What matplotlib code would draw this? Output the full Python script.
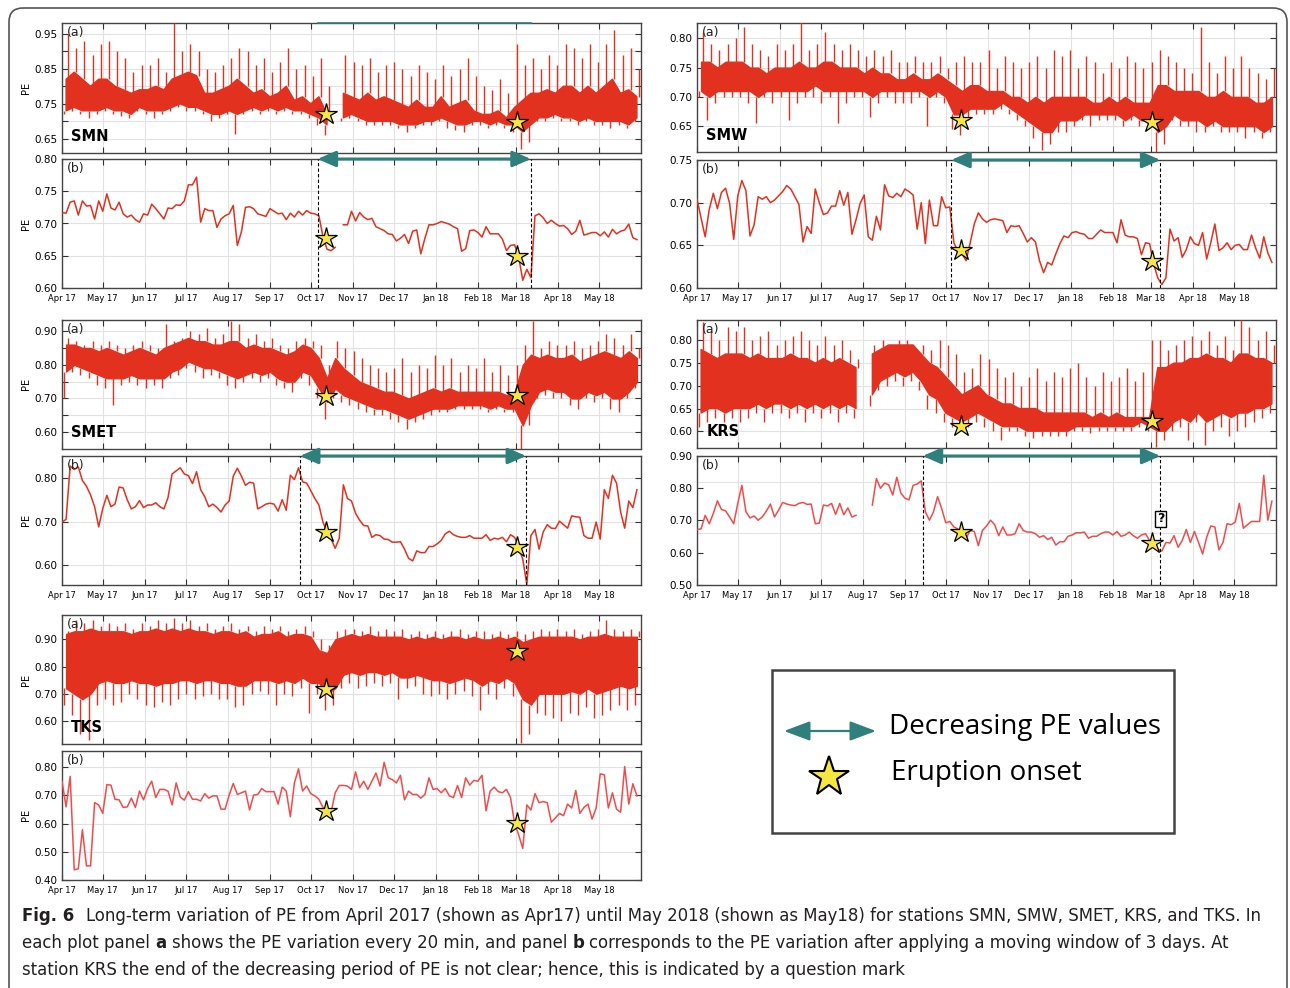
import numpy as np
import matplotlib
matplotlib.use("Agg")
import matplotlib.pyplot as plt
from matplotlib import font_manager
from matplotlib.patches import FancyBboxPatch, Rectangle

W, H = 1290, 988
RED = "#e2311f"
RED_LIGHT = "#f24b4b"
TEAL = "#2f7f7c"
STAR = "#f5e642"

# month starts as days since 2017-04-01
months = np.arange("2017-04", "2018-06", dtype="datetime64[M]")
month_days = (months.astype("datetime64[D]") - np.datetime64("2017-04-01")).astype(int)
month_labels = [m.astype(object).strftime("%b %y") for m in months]

nan = np.nan

# ---- panel (a): 20-min PE read per 6-day bin ----
# hi / lo: tips of the spikes; top / bot: edges of the dense band
smn_a_hi = [0.95, 0.91, 0.93, 0.89, 0.92, 0.93, 0.90, 0.88, 0.84, 0.86,
            0.86, 0.88, 0.84, 0.98, 0.90, 0.92, 0.90, 0.85, 0.84, 0.86,
            0.88, 0.91, 0.90, 0.86, 0.88, 0.84, 0.87, 0.91, 0.85, 0.86,
            0.83, 0.88, 0.80, nan, 0.89, 0.87, 0.86, 0.88, 0.84, 0.86,
            0.87, 0.85, 0.83, 0.86, 0.84, 0.82, 0.86, 0.83, 0.85, 0.88, 0.83,
            0.80, 0.79, 0.82, 0.78, 0.92, 0.86, 0.88, 0.85, 0.89, 0.86,
            0.92, 0.91, 0.88, 0.92, 0.87, 0.92, 0.96, 0.89, 0.91, 0.85]
smn_a_top = [0.82, 0.84, 0.82, 0.80, 0.82, 0.82, 0.80, 0.79, 0.78, 0.79,
             0.79, 0.80, 0.79, 0.82, 0.83, 0.84, 0.83, 0.78, 0.78, 0.79,
             0.80, 0.82, 0.80, 0.78, 0.79, 0.77, 0.78, 0.80, 0.76, 0.77,
             0.75, 0.77, 0.72, nan, 0.78, 0.77, 0.76, 0.78, 0.76, 0.77,
             0.76, 0.75, 0.74, 0.76, 0.74, 0.74, 0.77, 0.74, 0.75, 0.76, 0.73,
             0.72, 0.72, 0.73, 0.71, 0.74, 0.76, 0.78, 0.78, 0.79, 0.78,
             0.80, 0.80, 0.78, 0.80, 0.78, 0.80, 0.82, 0.78, 0.79, 0.77]
smn_a_bot = [0.73, 0.74, 0.73, 0.73, 0.73, 0.74, 0.73, 0.73, 0.72, 0.74,
             0.73, 0.73, 0.73, 0.74, 0.75, 0.74, 0.74, 0.73, 0.72, 0.72,
             0.73, 0.72, 0.73, 0.74, 0.73, 0.74, 0.73, 0.74, 0.73, 0.73,
             0.72, 0.71, 0.69, nan, 0.71, 0.72, 0.71, 0.70, 0.70, 0.70,
             0.70, 0.69, 0.69, 0.69, 0.70, 0.70, 0.71, 0.70, 0.69, 0.69, 0.70,
             0.70, 0.69, 0.70, 0.69, 0.69, 0.67, 0.69, 0.71, 0.71, 0.72,
             0.71, 0.71, 0.70, 0.71, 0.70, 0.70, 0.70, 0.70, 0.69, 0.71]
smn_a_lo = [0.72, 0.73, 0.72, 0.71, 0.72, 0.73, 0.72, 0.715, 0.71, 0.73,
            0.72, 0.71, 0.72, 0.73, 0.74, 0.73, 0.73, 0.72, 0.70, 0.71,
            0.72, 0.665, 0.72, 0.73, 0.72, 0.73, 0.72, 0.73, 0.72, 0.72,
            0.71, 0.69, 0.66, nan, 0.70, 0.71, 0.70, 0.69, 0.69, 0.69,
            0.69, 0.68, 0.67, 0.68, 0.69, 0.69, 0.70, 0.68, 0.675, 0.67, 0.69,
            0.69, 0.68, 0.69, 0.68, 0.67, 0.62, 0.64, 0.70, 0.70, 0.71,
            0.70, 0.70, 0.69, 0.70, 0.69, 0.69, 0.68, 0.69, 0.68, 0.70]

smw_a_hi = [0.81, 0.79, 0.78, 0.79, 0.80, 0.82, 0.79, 0.78, 0.77, 0.79,
            0.78, 0.79, 0.83, 0.78, 0.79, 0.81, 0.79, 0.78, 0.79, 0.78,
            0.77, 0.78, 0.77, 0.78, 0.76, 0.76, 0.77, 0.76, 0.76, 0.77,
            0.75, 0.76, 0.77, 0.76, 0.76, 0.78, 0.75, 0.77, 0.76, 0.75,
            0.76, 0.77, 0.75, 0.78, 0.77, 0.78, 0.75, 0.77, 0.76, 0.74, 0.76,
            0.75, 0.77, 0.76, 0.75, 0.76, 0.78, 0.77, 0.76, 0.75, 0.74,
            0.82, 0.76, 0.74, 0.77, 0.75, 0.77, 0.75, 0.74, 0.73, 0.75]
smw_a_top = [0.76, 0.76, 0.75, 0.76, 0.76, 0.76, 0.75, 0.75, 0.74, 0.75,
             0.75, 0.75, 0.76, 0.75, 0.75, 0.76, 0.76, 0.75, 0.75, 0.75,
             0.74, 0.75, 0.74, 0.74, 0.73, 0.73, 0.74, 0.73, 0.73, 0.74,
             0.73, 0.72, 0.71, 0.72, 0.72, 0.71, 0.71, 0.71, 0.70, 0.70,
             0.69, 0.70, 0.69, 0.70, 0.70, 0.70, 0.70, 0.70, 0.69, 0.69, 0.70,
             0.69, 0.70, 0.69, 0.69, 0.69, 0.72, 0.72, 0.71, 0.71, 0.71,
             0.71, 0.70, 0.70, 0.71, 0.70, 0.70, 0.70, 0.69, 0.69, 0.70]
smw_a_bot = [0.71, 0.70, 0.71, 0.71, 0.71, 0.71, 0.71, 0.70, 0.71, 0.71,
             0.71, 0.71, 0.71, 0.71, 0.72, 0.71, 0.71, 0.71, 0.71, 0.71,
             0.71, 0.70, 0.71, 0.71, 0.71, 0.71, 0.71, 0.71, 0.70, 0.71,
             0.70, 0.67, 0.67, 0.68, 0.68, 0.68, 0.68, 0.69, 0.68, 0.67,
             0.66, 0.65, 0.64, 0.64, 0.66, 0.66, 0.66, 0.67, 0.67, 0.67, 0.67,
             0.67, 0.66, 0.67, 0.66, 0.66, 0.64, 0.65, 0.67, 0.66, 0.66,
             0.66, 0.65, 0.66, 0.65, 0.65, 0.65, 0.65, 0.65, 0.64, 0.65]
smw_a_lo = [0.70, 0.66, 0.69, 0.70, 0.70, 0.70, 0.69, 0.655, 0.70, 0.69,
            0.70, 0.66, 0.69, 0.70, 0.70, 0.69, 0.70, 0.655, 0.69, 0.70,
            0.70, 0.665, 0.69, 0.70, 0.69, 0.69, 0.69, 0.70, 0.65, 0.70,
            0.69, 0.645, 0.635, 0.66, 0.67, 0.67, 0.67, 0.68, 0.67, 0.66,
            0.65, 0.63, 0.61, 0.62, 0.64, 0.64, 0.65, 0.66, 0.65, 0.66, 0.66,
            0.66, 0.65, 0.66, 0.65, 0.65, 0.605, 0.62, 0.66, 0.65, 0.65,
            0.64, 0.64, 0.65, 0.64, 0.64, 0.64, 0.63, 0.64, 0.63, 0.64]

smet_a_hi = [0.88, 0.87, 0.86, 0.87, 0.86, 0.87, 0.86, 0.85, 0.86, 0.87,
             0.86, 0.85, 0.92, 0.87, 0.88, 0.90, 0.89, 0.91, 0.88, 0.89,
             0.93, 0.92, 0.88, 0.89, 0.87, 0.88, 0.86, 0.85, 0.87, 0.88,
             0.87, 0.86, 0.80, 0.87, 0.85, 0.84, 0.82, 0.80, 0.79, 0.78,
             0.79, 0.82, 0.78, 0.80, 0.79, 0.83, 0.80, 0.82, 0.78, 0.80, 0.79,
             0.82, 0.78, 0.80, 0.77, 0.80, 0.86, 0.93, 0.85, 0.87, 0.86,
             0.86, 0.87, 0.85, 0.86, 0.87, 0.89, 0.88, 0.86, 0.89, 0.85]
smet_a_top = [0.86, 0.86, 0.85, 0.85, 0.84, 0.85, 0.84, 0.83, 0.84, 0.85,
              0.84, 0.83, 0.85, 0.86, 0.87, 0.88, 0.87, 0.87, 0.86, 0.86,
              0.87, 0.87, 0.85, 0.86, 0.85, 0.85, 0.84, 0.83, 0.84, 0.86,
              0.85, 0.82, 0.76, 0.82, 0.79, 0.77, 0.75, 0.74, 0.73, 0.72,
              0.72, 0.71, 0.70, 0.71, 0.72, 0.73, 0.72, 0.73, 0.72, 0.72, 0.72,
              0.72, 0.72, 0.72, 0.71, 0.72, 0.80, 0.83, 0.82, 0.83, 0.82,
              0.82, 0.83, 0.81, 0.82, 0.83, 0.84, 0.83, 0.82, 0.84, 0.82]
smet_a_bot = [0.78, 0.80, 0.79, 0.78, 0.77, 0.76, 0.76, 0.76, 0.77, 0.76,
              0.76, 0.76, 0.76, 0.78, 0.79, 0.81, 0.80, 0.79, 0.79, 0.78,
              0.77, 0.76, 0.77, 0.78, 0.77, 0.78, 0.76, 0.75, 0.75, 0.78,
              0.77, 0.73, 0.69, 0.73, 0.71, 0.70, 0.69, 0.68, 0.67, 0.67,
              0.66, 0.65, 0.64, 0.65, 0.66, 0.67, 0.67, 0.67, 0.68, 0.68, 0.68,
              0.68, 0.67, 0.68, 0.67, 0.67, 0.62, 0.68, 0.72, 0.73, 0.72,
              0.72, 0.70, 0.70, 0.72, 0.71, 0.72, 0.70, 0.70, 0.72, 0.75]
smet_a_lo = [0.70, 0.78, 0.77, 0.76, 0.74, 0.73, 0.68, 0.74, 0.75, 0.74,
             0.73, 0.74, 0.73, 0.76, 0.77, 0.79, 0.78, 0.76, 0.77, 0.76,
             0.74, 0.73, 0.75, 0.76, 0.75, 0.76, 0.74, 0.73, 0.72, 0.76,
             0.74, 0.70, 0.64, 0.70, 0.69, 0.68, 0.67, 0.66, 0.65, 0.65,
             0.64, 0.63, 0.61, 0.63, 0.64, 0.65, 0.66, 0.66, 0.67, 0.67, 0.67,
             0.67, 0.66, 0.67, 0.66, 0.66, 0.55, 0.62, 0.70, 0.71, 0.70,
             0.70, 0.68, 0.67, 0.70, 0.69, 0.70, 0.67, 0.66, 0.70, 0.73]

krs_a_hi = [0.84, 0.82, 0.80, 0.83, 0.82, 0.83, 0.80, 0.81, 0.82, 0.79,
            0.80, 0.81, 0.82, 0.80, 0.79, 0.81, 0.79, 0.80, 0.78, 0.76,
            nan, 0.79, 0.80, 0.79, 0.80, 0.80, 0.79, 0.79, 0.78, 0.80,
            0.79, 0.77, 0.73, 0.74, 0.77, 0.76, 0.74, 0.72, 0.73, 0.70,
            0.72, 0.74, 0.71, 0.73, 0.72, 0.74, 0.75, 0.72, 0.70, 0.73, 0.71,
            0.72, 0.74, 0.71, 0.73, 0.80, 0.80, 0.78, 0.79, 0.80, 0.81,
            0.80, 0.82, 0.79, 0.81, 0.78, 0.845, 0.83, 0.80, 0.82, 0.79]
krs_a_top = [0.78, 0.77, 0.76, 0.77, 0.77, 0.77, 0.76, 0.77, 0.76, 0.76,
             0.76, 0.77, 0.76, 0.76, 0.75, 0.76, 0.75, 0.76, 0.75, 0.74,
             nan, 0.77, 0.78, 0.79, 0.79, 0.79, 0.79, 0.77, 0.75, 0.74,
             0.72, 0.70, 0.68, 0.69, 0.70, 0.68, 0.67, 0.66, 0.66, 0.65,
             0.65, 0.65, 0.64, 0.64, 0.64, 0.64, 0.64, 0.64, 0.63, 0.64, 0.63,
             0.64, 0.63, 0.63, 0.63, 0.63, 0.74, 0.74, 0.75, 0.75, 0.76,
             0.76, 0.77, 0.76, 0.76, 0.75, 0.77, 0.77, 0.76, 0.76, 0.75]
krs_a_bot = [0.64, 0.65, 0.65, 0.64, 0.65, 0.65, 0.65, 0.66, 0.65, 0.66,
             0.66, 0.65, 0.66, 0.65, 0.66, 0.65, 0.66, 0.65, 0.66, 0.65,
             nan, 0.68, 0.71, 0.72, 0.73, 0.72, 0.73, 0.71, 0.68, 0.67,
             0.64, 0.63, 0.62, 0.63, 0.64, 0.63, 0.62, 0.61, 0.61, 0.61,
             0.60, 0.60, 0.60, 0.60, 0.60, 0.60, 0.61, 0.61, 0.61, 0.61, 0.61,
             0.61, 0.61, 0.61, 0.62, 0.61, 0.60, 0.60, 0.62, 0.63, 0.62,
             0.64, 0.62, 0.63, 0.64, 0.63, 0.64, 0.64, 0.65, 0.65, 0.66]
krs_a_lo = [0.61, 0.62, 0.63, 0.62, 0.63, 0.62, 0.63, 0.64, 0.62, 0.64,
            0.64, 0.63, 0.64, 0.62, 0.64, 0.63, 0.64, 0.62, 0.64, 0.63,
            nan, 0.655, 0.69, 0.70, 0.71, 0.70, 0.71, 0.69, 0.65, 0.64,
            0.62, 0.61, 0.60, 0.61, 0.62, 0.61, 0.60, 0.58, 0.60, 0.60,
            0.59, 0.585, 0.59, 0.59, 0.59, 0.59, 0.60, 0.60, 0.595, 0.60, 0.60,
            0.60, 0.60, 0.60, 0.61, 0.60, 0.565, 0.58, 0.60, 0.61, 0.58,
            0.62, 0.57, 0.60, 0.61, 0.59, 0.60, 0.61, 0.62, 0.63, 0.64]

tks_a_hi = [0.93, 0.97, 0.96, 0.97, 0.95, 0.96, 0.95, 0.96, 0.94, 0.96,
            0.95, 0.97, 0.96, 0.98, 0.96, 0.97, 0.95, 0.96, 0.94, 0.95,
            0.96, 0.94, 0.95, 0.93, 0.95, 0.94, 0.95, 0.93, 0.94, 0.95,
            0.93, 0.90, 0.88, 0.93, 0.94, 0.94, 0.93, 0.95, 0.93, 0.94,
            0.93, 0.94, 0.92, 0.93, 0.92, 0.93, 0.92, 0.93, 0.94, 0.92, 0.93,
            0.93, 0.92, 0.93, 0.92, 0.93, 0.92, 0.93, 0.94, 0.93, 0.94,
            0.93, 0.94, 0.92, 0.93, 0.94, 0.97, 0.94, 0.93, 0.94, 0.93]
tks_a_top = [0.92, 0.93, 0.93, 0.94, 0.93, 0.93, 0.93, 0.93, 0.92, 0.93,
             0.93, 0.94, 0.93, 0.94, 0.93, 0.94, 0.93, 0.93, 0.92, 0.93,
             0.93, 0.92, 0.93, 0.91, 0.92, 0.92, 0.93, 0.91, 0.92, 0.92,
             0.91, 0.86, 0.85, 0.90, 0.91, 0.92, 0.91, 0.92, 0.91, 0.91,
             0.91, 0.91, 0.90, 0.91, 0.90, 0.91, 0.90, 0.91, 0.91, 0.90, 0.91,
             0.90, 0.90, 0.91, 0.90, 0.91, 0.89, 0.90, 0.91, 0.91, 0.91,
             0.91, 0.91, 0.90, 0.91, 0.91, 0.92, 0.91, 0.91, 0.91, 0.91]
tks_a_bot = [0.72, 0.70, 0.68, 0.70, 0.74, 0.75, 0.74, 0.74, 0.75, 0.74,
             0.74, 0.73, 0.74, 0.74, 0.75, 0.75, 0.74, 0.75, 0.75, 0.74,
             0.74, 0.73, 0.73, 0.75, 0.75, 0.75, 0.74, 0.75, 0.74, 0.76,
             0.74, 0.74, 0.70, 0.72, 0.77, 0.78, 0.77, 0.78, 0.78, 0.77,
             0.78, 0.76, 0.76, 0.77, 0.76, 0.75, 0.75, 0.74, 0.75, 0.76, 0.75,
             0.73, 0.75, 0.74, 0.76, 0.74, 0.68, 0.66, 0.70, 0.70, 0.70,
             0.70, 0.71, 0.70, 0.72, 0.70, 0.71, 0.72, 0.73, 0.72, 0.73]
tks_a_lo = [0.66, 0.62, 0.55, 0.53, 0.66, 0.68, 0.66, 0.67, 0.70, 0.68,
            0.66, 0.65, 0.67, 0.66, 0.68, 0.70, 0.68, 0.69, 0.70, 0.68,
            0.68, 0.65, 0.66, 0.70, 0.71, 0.70, 0.66, 0.70, 0.69, 0.72,
            0.63, 0.70, 0.64, 0.66, 0.72, 0.74, 0.72, 0.73, 0.74, 0.73,
            0.74, 0.68, 0.72, 0.73, 0.70, 0.69, 0.70, 0.68, 0.70, 0.71, 0.69,
            0.64, 0.70, 0.68, 0.72, 0.69, 0.52, 0.55, 0.63, 0.62, 0.61,
            0.60, 0.63, 0.62, 0.65, 0.61, 0.62, 0.64, 0.66, 0.64, 0.66]

# ---- panel (b): 3-day moving window PE, one value every 3 days ----
smn_b = [0.717, 0.716, 0.733, 0.735, 0.713, 0.735, 0.727, 0.728, 0.707, 0.735,
         0.719, 0.746, 0.724, 0.721, 0.733, 0.715, 0.710, 0.713, 0.706, 0.702,
         0.715, 0.713, 0.730, 0.723, 0.715, 0.707, 0.724, 0.723, 0.729, 0.728,
         0.735, 0.760, 0.760, 0.772, 0.702, 0.723, 0.720, 0.720, 0.694, 0.707,
         0.712, 0.715, 0.728, 0.666, 0.687, 0.725, 0.726, 0.723, 0.715, 0.713,
         0.711, 0.723, 0.719, 0.715, 0.716, 0.706, 0.716, 0.710, 0.719, 0.713,
         0.720, 0.716, 0.715, 0.712, 0.680, 0.660, 0.658, 0.663, nan,
         0.698, 0.698, 0.719, 0.704, 0.717, 0.710, 0.706, 0.708, 0.695, 0.692, 0.689,
         0.684, 0.683, 0.673, 0.677, 0.683, 0.669, 0.688, 0.690, 0.653, 0.677,
         0.698, 0.698, 0.700, 0.703, 0.701, 0.699, 0.695, 0.692, 0.657, 0.661,
         0.689, 0.690, 0.686, 0.679, 0.695, 0.684, 0.684, 0.684, 0.676, 0.658,
         0.666, 0.667, 0.648, 0.612, 0.629, 0.616, 0.712, 0.715, 0.709, 0.700,
         0.705, 0.700, 0.696, 0.697, 0.692, 0.683, 0.688, 0.705, 0.682, 0.684,
         0.686, 0.686, 0.681, 0.687, 0.679, 0.691, 0.684, 0.688, 0.690, 0.699,
         0.678, 0.675]
smw_b = [0.704, 0.682, 0.660, 0.692, 0.711, 0.693, 0.712, 0.717, 0.699, 0.657,
         0.708, 0.726, 0.714, 0.661, 0.674, 0.707, 0.704, 0.707, 0.700, 0.703,
         0.708, 0.713, 0.720, 0.716, 0.707, 0.698, 0.654, 0.672, 0.664, 0.716,
         0.700, 0.686, 0.688, 0.696, 0.696, 0.714, 0.697, 0.712, 0.663, 0.680,
         0.699, 0.709, 0.660, 0.656, 0.684, 0.668, 0.721, 0.708, 0.706, 0.711,
         0.707, 0.716, 0.713, 0.709, 0.669, 0.700, 0.652, 0.703, 0.673, 0.673,
         0.707, 0.694, 0.695, 0.653, 0.643, 0.640, 0.632, 0.653, 0.675, 0.688,
         0.681, 0.677, 0.680, 0.681, 0.680, 0.679, 0.665, 0.673, 0.672, 0.673,
         0.664, 0.654, 0.659, 0.654, 0.632, 0.618, 0.630, 0.627, 0.640, 0.652,
         0.661, 0.659, 0.665, 0.666, 0.664, 0.663, 0.658, 0.658, 0.663, 0.668,
         0.665, 0.665, 0.665, 0.653, 0.680, 0.662, 0.660, 0.660, 0.658, 0.639,
         0.653, 0.652, 0.628, 0.612, 0.604, 0.612, 0.669, 0.655, 0.659, 0.636,
         0.645, 0.660, 0.652, 0.650, 0.665, 0.634, 0.653, 0.675, 0.644, 0.647,
         0.653, 0.645, 0.650, 0.651, 0.645, 0.645, 0.662, 0.647, 0.635, 0.660,
         0.641, 0.630]
smet_b = [0.699, 0.705, 0.827, 0.819, 0.825, 0.794, 0.781, 0.761, 0.734, 0.688,
          0.730, 0.760, 0.734, 0.740, 0.779, 0.777, 0.750, 0.729, 0.734, 0.748,
          0.732, 0.738, 0.738, 0.743, 0.734, 0.729, 0.755, 0.809, 0.816, 0.823,
          0.809, 0.805, 0.787, 0.814, 0.773, 0.757, 0.734, 0.740, 0.732, 0.722,
          0.738, 0.747, 0.804, 0.822, 0.804, 0.783, 0.790, 0.788, 0.729, 0.734,
          0.740, 0.742, 0.740, 0.724, 0.750, 0.726, 0.806, 0.796, 0.823, 0.791,
          0.788, 0.771, 0.753, 0.738, 0.699, 0.676, 0.660, 0.639, 0.662, 0.784,
          0.753, 0.747, 0.719, 0.703, 0.691, 0.690, 0.664, 0.670, 0.668, 0.660,
          0.659, 0.653, 0.653, 0.654, 0.637, 0.616, 0.610, 0.633, 0.629, 0.629,
          0.643, 0.643, 0.649, 0.657, 0.672, 0.678, 0.670, 0.666, 0.664, 0.664,
          0.668, 0.662, 0.662, 0.662, 0.670, 0.657, 0.662, 0.660, 0.664, 0.654,
          0.670, 0.664, 0.641, 0.614, 0.556, 0.668, 0.682, 0.637, 0.676, 0.693,
          0.685, 0.684, 0.701, 0.693, 0.685, 0.713, 0.711, 0.710, 0.668, 0.662,
          0.662, 0.699, 0.660, 0.773, 0.753, 0.806, 0.788, 0.722, 0.685, 0.747,
          0.732, 0.773]
krs_b = [0.672, 0.674, 0.716, 0.690, 0.722, 0.761, 0.734, 0.730, 0.711, 0.690,
         0.753, 0.809, 0.727, 0.708, 0.714, 0.701, 0.711, 0.729, 0.751, 0.711,
         0.732, 0.756, 0.751, 0.748, 0.746, 0.753, 0.756, 0.750, 0.751, 0.690,
         0.692, 0.748, 0.745, 0.753, 0.719, 0.753, 0.718, 0.739, 0.711, 0.716,
         nan, nan, nan, 0.748, 0.830, 0.800, 0.816, 0.811, 0.779, 0.834,
         0.785, 0.769, 0.764, 0.809, 0.813, 0.823, 0.727, 0.701, 0.727, 0.774,
         0.737, 0.693, 0.697, 0.680, 0.674, 0.655, 0.645, 0.669, 0.666, 0.622,
         0.669, 0.683, 0.701, 0.687, 0.653, 0.680, 0.655, 0.655, 0.659, 0.690,
         0.669, 0.664, 0.664, 0.659, 0.648, 0.653, 0.641, 0.648, 0.624, 0.634,
         0.634, 0.651, 0.655, 0.662, 0.662, 0.664, 0.645, 0.651, 0.651, 0.659,
         0.664, 0.664, 0.655, 0.666, 0.651, 0.655, 0.664, 0.653, 0.645, 0.655,
         0.659, 0.638, 0.627, 0.611, 0.605, 0.632, 0.630, 0.653, 0.617, 0.638,
         0.672, 0.632, 0.666, 0.632, 0.596, 0.648, 0.683, 0.680, 0.609, 0.632,
         0.690, 0.687, 0.695, 0.753, 0.676, 0.687, 0.697, 0.697, 0.697, 0.840,
         0.701, 0.760]
tks_b = [0.750, 0.659, 0.767, 0.436, 0.440, 0.578, 0.450, 0.450, 0.674, 0.666,
         0.636, 0.738, 0.736, 0.686, 0.684, 0.657, 0.659, 0.690, 0.657, 0.715,
         0.684, 0.724, 0.750, 0.692, 0.721, 0.721, 0.715, 0.666, 0.744, 0.694,
         0.683, 0.713, 0.686, 0.686, 0.680, 0.706, 0.690, 0.698, 0.698, 0.651,
         0.651, 0.701, 0.742, 0.703, 0.709, 0.715, 0.648, 0.701, 0.703, 0.724,
         0.713, 0.713, 0.713, 0.669, 0.729, 0.715, 0.624, 0.744, 0.794, 0.715,
         0.733, 0.706, 0.698, 0.686, 0.657, 0.645, 0.640, 0.709, 0.735, 0.735,
         0.733, 0.721, 0.783, 0.727, 0.750, 0.721, 0.750, 0.779, 0.733, 0.817,
         0.762, 0.756, 0.744, 0.771, 0.684, 0.715, 0.703, 0.703, 0.690, 0.703,
         0.762, 0.721, 0.724, 0.709, 0.724, 0.698, 0.692, 0.735, 0.692, 0.762,
         0.736, 0.753, 0.750, 0.771, 0.645, 0.715, 0.729, 0.713, 0.709, 0.721,
         0.692, 0.601, 0.560, 0.512, 0.666, 0.648, 0.706, 0.674, 0.678, 0.674,
         0.605, 0.620, 0.636, 0.628, 0.669, 0.655, 0.717, 0.636, 0.657, 0.669,
         0.616, 0.655, 0.776, 0.773, 0.655, 0.709, 0.651, 0.640, 0.802, 0.669,
         0.741, 0.698]

# eruption onsets (days since 2017-04-01) and star heights per panel
eruption_days = [194, 335]
smn_star_a, smn_star_b = [0.720, 0.698], [0.678, 0.650]
smw_star_a, smw_star_b = [0.660, 0.657], [0.644, 0.632]
smet_star_a, smet_star_b = [0.707, 0.710], [0.676, 0.643]
krs_star_a, krs_star_b = [0.611, 0.622], [0.664, 0.630]
tks_star_a, tks_star_b = [0.718, 0.859], [0.643, 0.601]

# decreasing-PE periods (start, end days)
smn_period = [188, 345]
smw_period = [187, 341]
smet_period = [175, 341.5]
krs_period = [166, 341]

fig = plt.figure(figsize=(W / 100, H / 100), dpi=100)


def px_axes(l, t, r, b):
    return fig.add_axes([l / W, 1 - b / H, (r - l) / W, (b - t) / H])


def style(ax, ylim, yt, ylab, show_x):
    ax.set_xlim(0, 426)
    ax.set_ylim(*ylim)
    ax.set_xticks(month_days)
    ax.set_xticklabels(month_labels if show_x else [])
    ax.set_yticks(yt)
    ax.set_yticklabels(ylab)
    ax.tick_params(direction="in", length=4, width=0.8, top=True, right=True,
                   color="#333333")
    ax.tick_params(axis="x", labelsize=6, pad=4)
    ax.tick_params(axis="y", labelsize=7.5, pad=3)
    ax.grid(True, color="#e2e2e2", lw=0.8)
    ax.set_axisbelow(True)
    for s in ax.spines.values():
        s.set_color("#444444")
        s.set_linewidth(1.0)


def labs(vals, every=1):
    return [f"{v:.2f}" if i % every == 0 else "" for i, v in enumerate(vals)]


def stars(ax, ys, ms=16):
    ax.plot(eruption_days, ys, ls="none", marker="*", ms=ms, mfc=STAR,
            mec="black", mew=0.9, zorder=6)


def envelope(ax, hi, top, bot, lo):
    # dense band between bot and top, single spikes up to hi and down to lo
    k = np.arange(len(hi)) * 6
    ax.fill_between(k + 3, bot, top, color=RED, lw=1.0, ec=RED, zorder=3)
    ax.vlines(k + 4.5, top, hi, color=RED, lw=1.0, zorder=3)
    ax.vlines(k + 1.5, lo, bot, color=RED, lw=1.0, zorder=3)


def smooth(ax, vals, color=RED):
    t = np.arange(len(vals)) * 3.0
    ax.plot(t, vals, color=color, lw=1.1, zorder=3)


def period(ax, span):
    top = ax.get_ylim()[1]
    for d in span:
        ax.axvline(d, color="black", ls=(0, (3, 2)), lw=0.8, zorder=4)
    ax.annotate("", xy=(span[1], top), xytext=(span[0], top),
                arrowprops=dict(arrowstyle="<|-|>,head_length=0.55,head_width=0.24",
                                mutation_scale=20, color=TEAL, lw=2.2,
                                shrinkA=0, shrinkB=0),
                annotation_clip=False, zorder=10)


def tag(ax, s):
    ax.text(0.008, 0.975, s, transform=ax.transAxes, ha="left", va="top",
            fontsize=9, color="#222222", zorder=7)


def station(ax, s):
    ax.text(0.016, 0.09, s, transform=ax.transAxes, ha="left", va="baseline",
            fontsize=10.5, fontweight="bold", color="black", zorder=7)


# ---- SMN ----
a = px_axes(62, 23, 641, 153)
envelope(a, smn_a_hi, smn_a_top, smn_a_bot, smn_a_lo)
stars(a, smn_star_a)
yt = [0.65, 0.70, 0.75, 0.80, 0.85, 0.90, 0.95]
style(a, (0.61, 0.98), yt, labs(yt, 2), False)
a.plot(smn_period, [1, 1], transform=a.get_xaxis_transform(), color=TEAL,
       lw=1.2, clip_on=False, zorder=8)
tag(a, "(a)")
station(a, "SMN")
b = px_axes(62, 159, 641, 288)
smooth(b, smn_b)
stars(b, smn_star_b)
yt = [0.60, 0.65, 0.70, 0.75, 0.80]
style(b, (0.60, 0.80), yt, labs(yt), True)
period(b, smn_period)
tag(b, "(b)")

# ---- SMW ----
a = px_axes(697, 23, 1276, 152)
envelope(a, smw_a_hi, smw_a_top, smw_a_bot, smw_a_lo)
stars(a, smw_star_a)
yt = [0.65, 0.70, 0.75, 0.80]
style(a, (0.606, 0.826), yt, labs(yt), False)
tag(a, "(a)")
station(a, "SMW")
b = px_axes(697, 160, 1276, 288)
smooth(b, smw_b)
stars(b, smw_star_b)
yt = [0.60, 0.65, 0.70, 0.75]
style(b, (0.60, 0.75), yt, labs(yt), True)
period(b, smw_period)
tag(b, "(b)")

# ---- SMET ----
a = px_axes(62, 320, 641, 449)
envelope(a, smet_a_hi, smet_a_top, smet_a_bot, smet_a_lo)
stars(a, smet_star_a)
yt = [0.60, 0.65, 0.70, 0.75, 0.80, 0.85, 0.90]
style(a, (0.55, 0.933), yt, labs(yt, 2), False)
tag(a, "(a)")
station(a, "SMET")
b = px_axes(62, 456, 641, 585)
smooth(b, smet_b)
stars(b, smet_star_b)
yt = [0.60, 0.70, 0.80]
style(b, (0.555, 0.85), yt, labs(yt), True)
period(b, smet_period)
tag(b, "(b)")

# ---- KRS ----
a = px_axes(697, 320, 1276, 448)
envelope(a, krs_a_hi, krs_a_top, krs_a_bot, krs_a_lo)
stars(a, krs_star_a)
yt = [0.60, 0.65, 0.70, 0.75, 0.80]
style(a, (0.563, 0.845), yt, labs(yt), False)
tag(a, "(a)")
station(a, "KRS")
b = px_axes(697, 456, 1276, 585)
smooth(b, krs_b, RED_LIGHT)
stars(b, krs_star_b)
yt = [0.50, 0.60, 0.70, 0.80, 0.90]
style(b, (0.50, 0.90), yt, labs(yt), True)
b.yaxis.grid(False)
for g in (0.66, 0.82):
    b.axhline(g, color="#e2e2e2", lw=0.8, zorder=0)
period(b, krs_period)
b.text(krs_period[1], 0.705, "?", ha="center", va="center", fontsize=9,
       fontweight="bold", zorder=8,
       bbox=dict(boxstyle="square,pad=0.15", fc="white", ec="black", lw=1))
tag(b, "(b)")

# ---- TKS ----
a = px_axes(62, 615, 641, 744)
envelope(a, tks_a_hi, tks_a_top, tks_a_bot, tks_a_lo)
stars(a, tks_star_a)
yt = [0.60, 0.70, 0.80, 0.90]
style(a, (0.515, 0.99), yt, labs(yt), False)
tag(a, "(a)")
station(a, "TKS")
b = px_axes(62, 751, 641, 880)
smooth(b, tks_b, RED_LIGHT)
stars(b, tks_star_b)
yt = [0.40, 0.50, 0.60, 0.70, 0.80]
style(b, (0.40, 0.857), yt, labs(yt), True)
tag(b, "(b)")

# ---- overlay in pixel units: PE labels, legend, caption, frame ----
ov = fig.add_axes([0, 0, 1, 1])
ov.set_xlim(0, W)
ov.set_ylim(H, 0)
ov.axis("off")

for yc in [88, 224, 384, 520, 680, 815]:
    ov.text(26, yc, "PE", rotation=90, ha="center", va="center", fontsize=7)

ov.add_patch(FancyBboxPatch((9, 8), 1278, 1020,
                            boxstyle="round,pad=0,rounding_size=14",
                            ec="#555555", fc="none", lw=1.2, clip_on=False))

fonts = font_manager.fontManager.ttflist
installed = {f.name for f in fonts}
leg_font = "Open Sans" if "Open Sans" in installed else "DejaVu Sans"

ov.add_patch(Rectangle((772, 670), 402, 163, fill=False, ec="#444444", lw=1.8))
ov.annotate("", xy=(876, 731), xytext=(784, 731),
            arrowprops=dict(arrowstyle="<|-|>,head_length=0.8,head_width=0.3",
                            mutation_scale=20, color=TEAL, lw=1.6,
                            shrinkA=0, shrinkB=0))
ov.plot([829], [777], ls="none", marker="*", ms=30, mfc=STAR, mec="black", mew=1.5)
ov.text(889, 727, "Decreasing PE values", fontsize=20, family=leg_font,
        ha="left", va="center")
ov.text(891, 773, "Eruption onset", fontsize=20, family=leg_font,
        ha="left", va="center")

# caption: pick the narrowest sans available, then size it to the reference line width
cap_stretch = "normal"
if "Liberation Sans Narrow" in installed:
    cap_font = "Liberation Sans Narrow"
elif any(f.name == "DejaVu Sans" and "condensed" in str(f.stretch) for f in fonts):
    cap_font, cap_stretch = "DejaVu Sans", "condensed"
elif "Lato" in installed:
    cap_font = "Lato"
else:
    cap_font = "DejaVu Sans"

renderer = fig.canvas.get_renderer()
caption = [
    [("Fig. 6", True),
     ("Long-term variation of PE from April 2017 (shown as Apr17) until May 2018 "
      "(shown as May18) for stations SMN, SMW, SMET, KRS, and TKS. In", False)],
    [("each plot panel", False), ("a", True),
     ("shows the PE variation every 20 min, and panel", False), ("b", True),
     ("corresponds to the PE variation after applying a moving window of 3 days. At", False)],
    [("station KRS the end of the decreasing period of PE is not clear; hence, "
      "this is indicated by a question mark", False)],
]


def caption_line(x, y, segs, size):
    sp = ov.text(0, 0, "x x", fontsize=size, family=cap_font, stretch=cap_stretch)
    xx = ov.text(0, 0, "xx", fontsize=size, family=cap_font, stretch=cap_stretch)
    gap = sp.get_window_extent(renderer).width - xx.get_window_extent(renderer).width
    sp.remove()
    xx.remove()
    made = []
    for i, (s, bold) in enumerate(segs):
        t = ov.text(x, y, s, fontsize=size, family=cap_font, stretch=cap_stretch,
                    color="#231f20", fontweight="bold" if bold else "normal",
                    ha="left", va="baseline")
        made.append(t)
        x += t.get_window_extent(renderer).width
        if i < len(segs) - 1:
            x += gap * (2.2 if s.startswith("Fig") else 1)
    return made, x


trial, x_end = caption_line(22, 921, caption[0], 13)
for t in trial:
    t.remove()
cap_size = 13 * (1262 - 22) / (x_end - 22)
for line, yb in zip(caption, [921, 948, 975]):
    caption_line(22, yb, line, cap_size)

fig.savefig("out.png", dpi=100, facecolor="white")
